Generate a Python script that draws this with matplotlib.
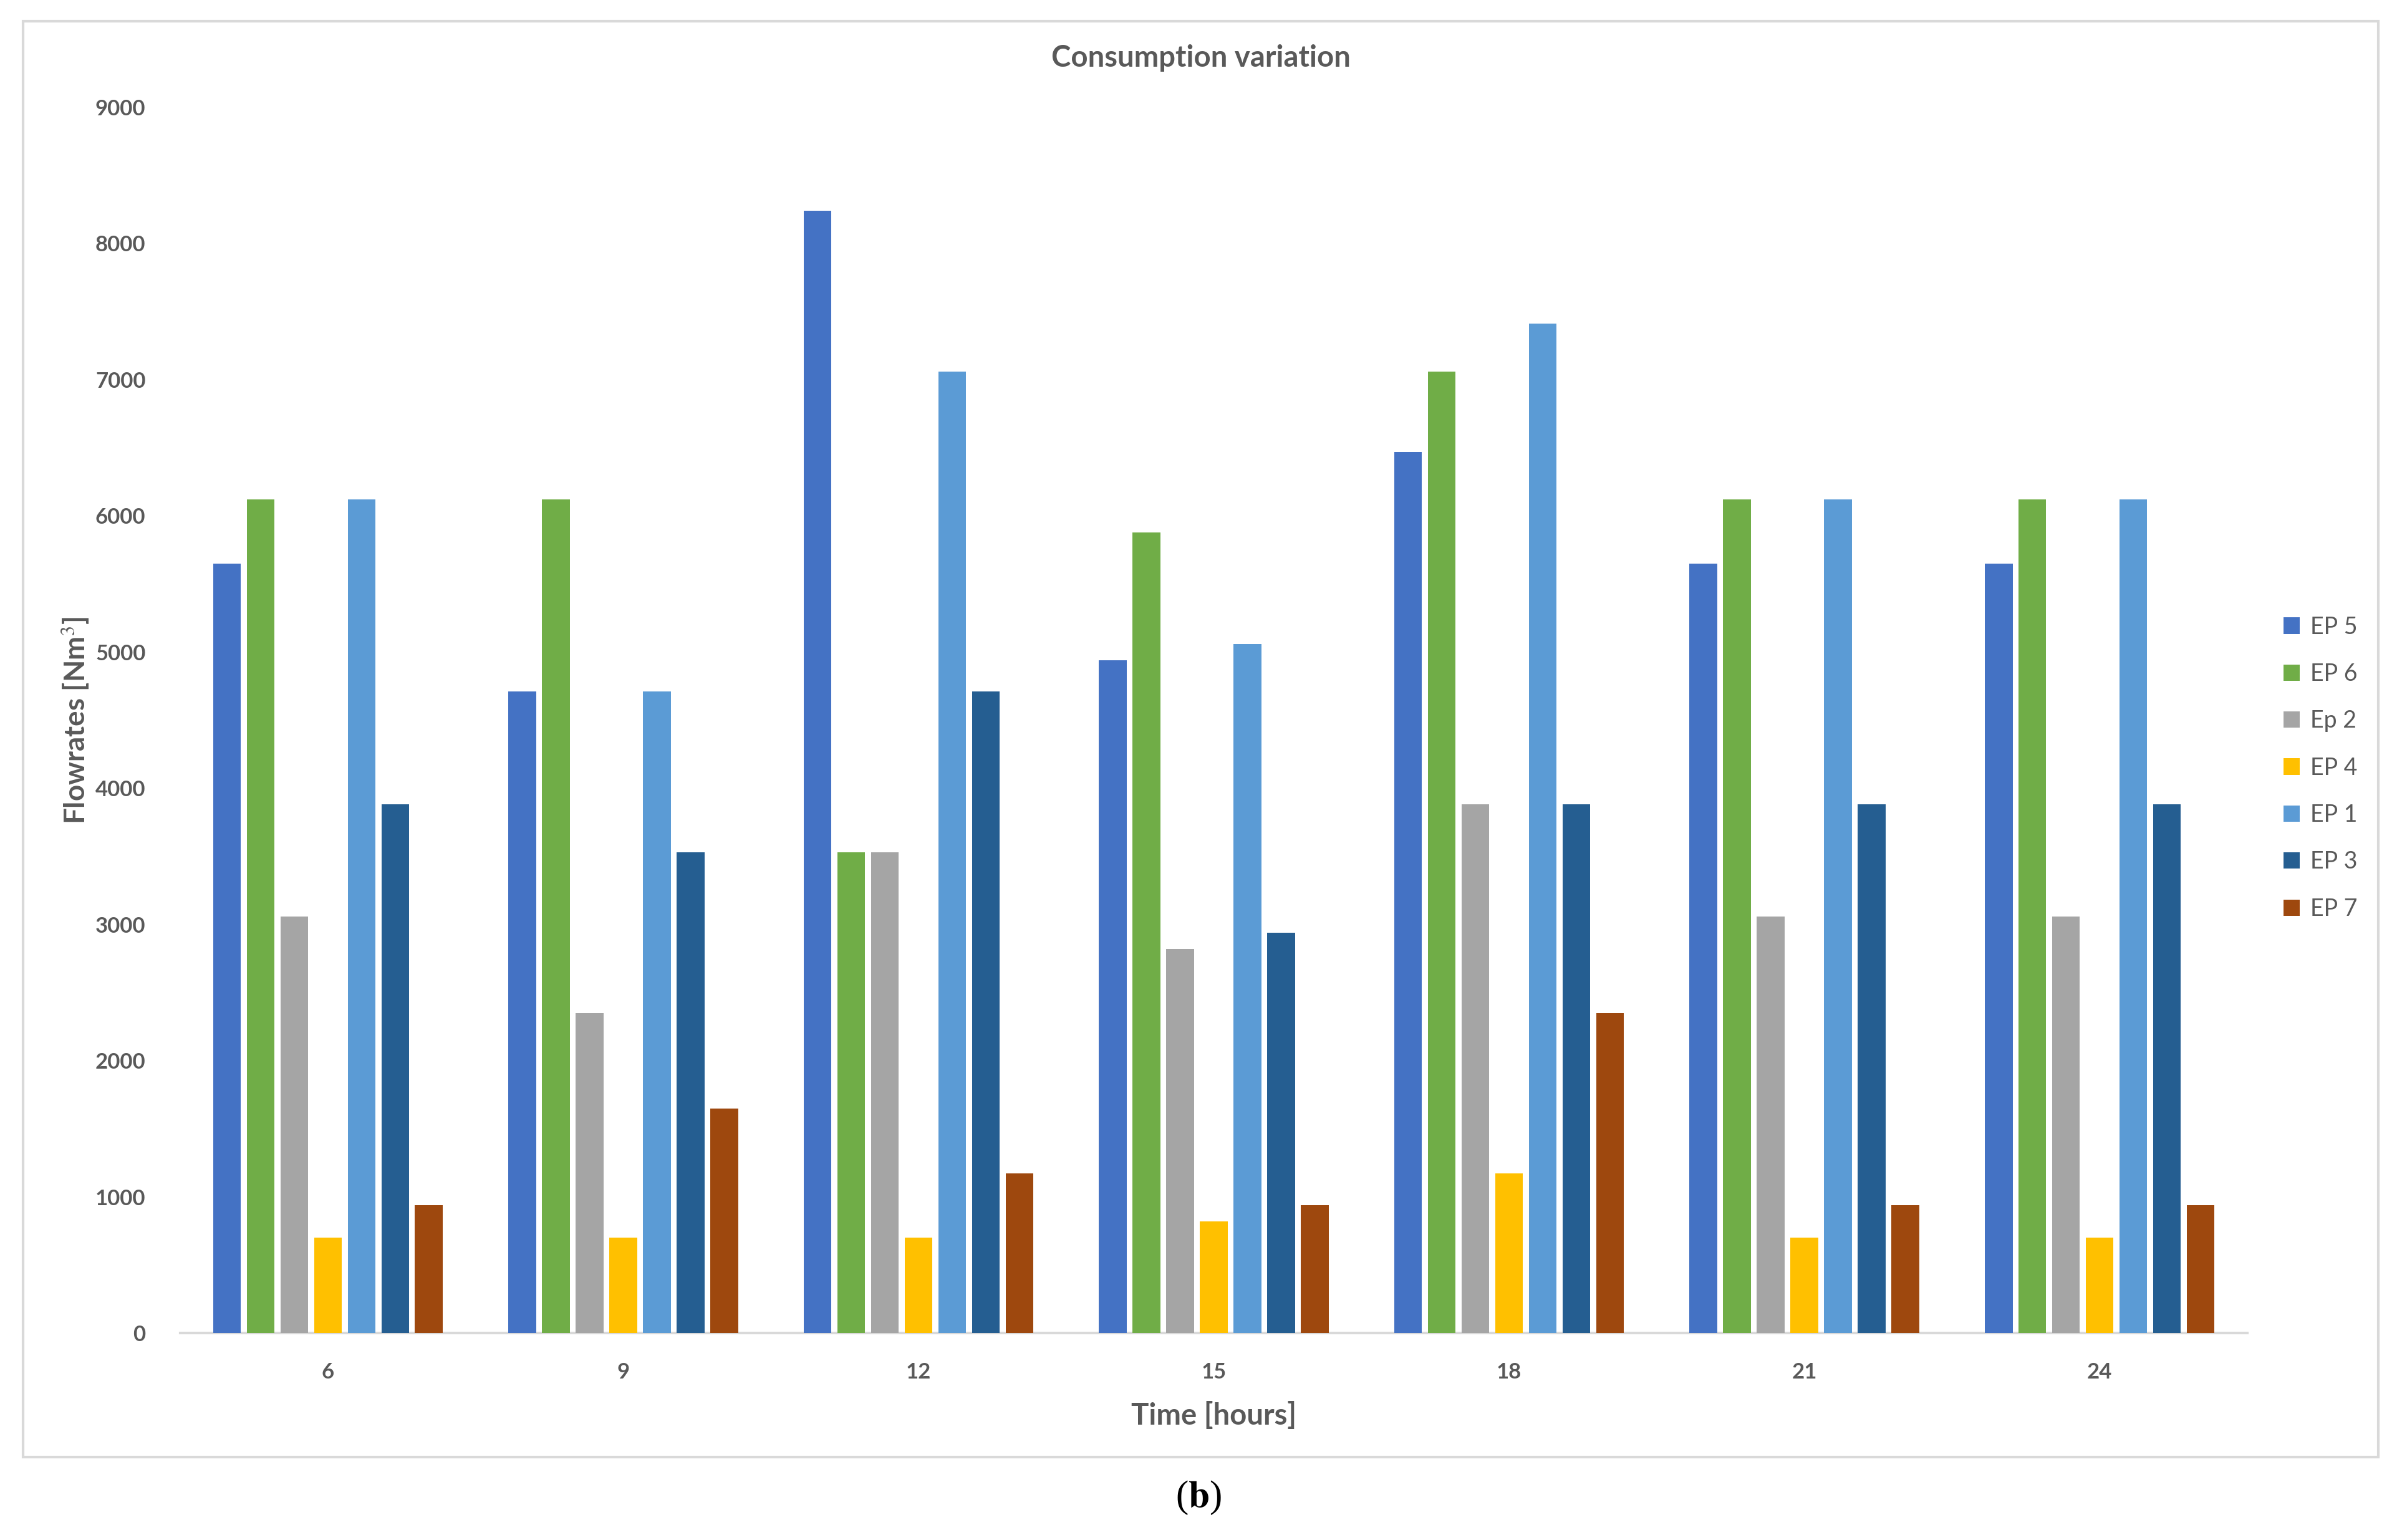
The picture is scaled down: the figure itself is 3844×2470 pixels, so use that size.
import matplotlib
matplotlib.use("Agg")
import matplotlib.pyplot as plt
import numpy as np
from matplotlib.patches import Rectangle

plt.rcParams['font.family'] = ['Lato', 'DejaVu Sans']
plt.rcParams['mathtext.fontset'] = 'stix'

hours = ["6", "9", "12", "15", "18", "21", "24"]
series_names = ["EP 5", "EP 6", "Ep 2", "EP 4", "EP 1", "EP 3", "EP 7"]
ep5 = [5650, 4710, 8240, 4940, 6470, 5650, 5650]
ep6 = [6120, 6120, 3530, 5880, 7060, 6120, 6120]
ep2 = [3060, 2350, 3530, 2820, 3880, 3060, 3060]
ep4 = [700, 700, 700, 820, 1170, 700, 700]
ep1 = [6120, 4710, 7060, 5060, 7410, 6120, 6120]
ep3 = [3880, 3530, 4710, 2940, 3880, 3880, 3880]
ep7 = [940, 1650, 1170, 940, 2350, 940, 940]
colors = ["#4472C4", "#70AD47", "#A5A5A5", "#FFC000", "#5B9BD5", "#255E91", "#9E480E"]
yticks = [0, 1000, 2000, 3000, 4000, 5000, 6000, 7000, 8000, 9000]

W, H = 3844, 2470
fig = plt.figure(figsize=(W / 100, H / 100), dpi=100)
fig.patch.set_facecolor("white")

# outer chart frame
fig.patches.append(Rectangle((37 / W, 1 - 2337 / H), (3814 - 37) / W, (2337 - 34) / H,
                             transform=fig.transFigure, fill=False,
                             edgecolor="#d9d9d9", linewidth=3))

ax = fig.add_axes([289 / W, 1 - 2138 / H, (3604 - 289) / W, (2138 - 172) / H])

data = [ep5, ep6, ep2, ep4, ep1, ep3, ep7]
x = np.arange(len(hours))
pitch = 0.114
bw = 0.094
for i, (vals, name, c) in enumerate(zip(data, series_names, colors)):
    ax.bar(x + (i - 3) * pitch, vals, width=bw, color=c, label=name, zorder=3)

ax.set_xlim(-0.5, len(hours) - 0.5)
ax.set_ylim(0, 9000)
ax.set_yticks(yticks)
ax.set_yticklabels([str(v) for v in yticks])
ax.set_xticks(x)
ax.set_xticklabels(hours)
tc = "#595959"
ax.tick_params(axis='both', length=0, labelsize=25, labelcolor=tc)
ax.tick_params(axis='x', pad=34)
ax.tick_params(axis='y', pad=40)
for lab in ax.get_xticklabels() + ax.get_yticklabels():
    lab.set_fontweight("bold")
for s in ["top", "right", "left"]:
    ax.spines[s].set_visible(False)
ax.spines["bottom"].set_color("#d9d9d9")
ax.spines["bottom"].set_linewidth(3)

fig.text(0.501, 1 - 93 / H, "Consumption variation", fontsize=34, fontweight="bold",
         color=tc, ha="center", va="center")
ax.set_xlabel("Time [hours]", fontsize=34, fontweight="bold", color=tc, labelpad=22)
ax.set_ylabel("Flowrates [Nm$^3$]", fontsize=33, fontweight="bold", color=tc)
ax.yaxis.set_label_coords(-0.043, 0.5)

leg = ax.legend(loc="center left", bbox_to_anchor=(1.013, 0.461), frameon=False,
                fontsize=27, handlelength=0.7, handleheight=0.7,
                handletextpad=0.45, labelspacing=1.05, borderaxespad=0)
for t in leg.get_texts():
    t.set_color(tc)

fig.text(0.5, 1 - 2402 / H, r"($\mathbf{b}$)", ha="center", va="center", fontsize=44,
         family="Liberation Serif")

fig.savefig("out.png", dpi=100, facecolor="white")
